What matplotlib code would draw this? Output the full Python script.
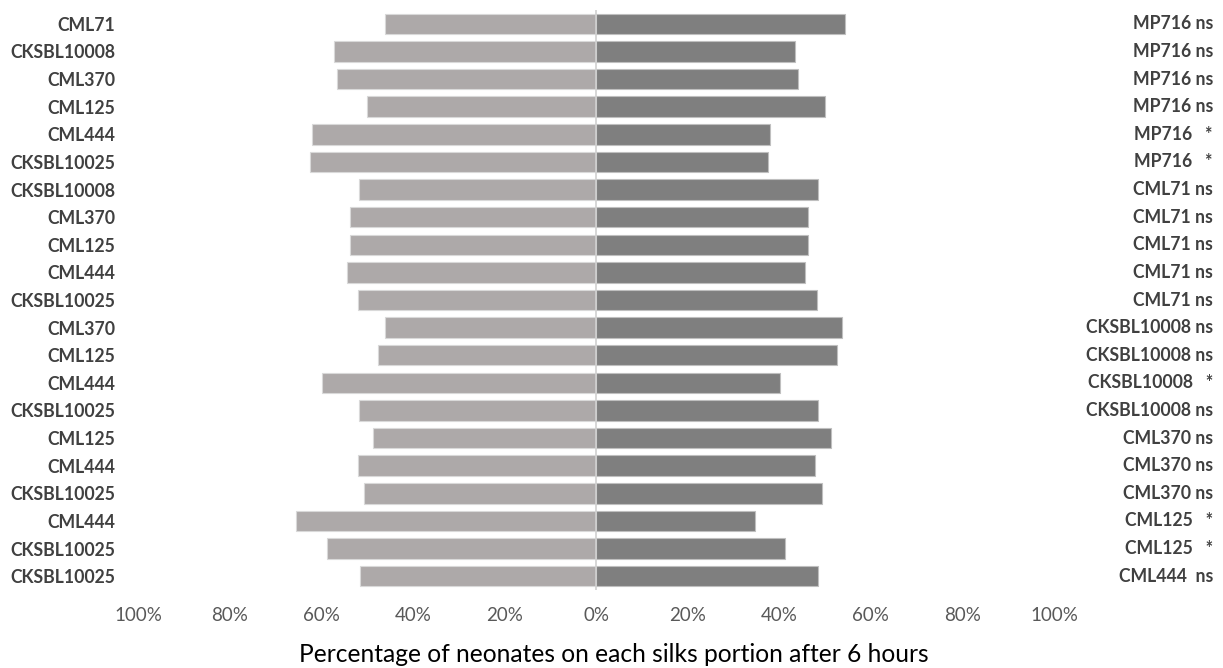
import matplotlib.pyplot as plt
import matplotlib.transforms as mtrans

# genotype on the left side of each comparison (top to bottom)
left_names = ["CML71", "CKSBL10008", "CML370", "CML125", "CML444", "CKSBL10025",
              "CKSBL10008", "CML370", "CML125", "CML444", "CKSBL10025",
              "CML370", "CML125", "CML444", "CKSBL10025",
              "CML125", "CML444", "CKSBL10025",
              "CML444", "CKSBL10025",
              "CKSBL10025"]
# genotype on the right side + significance
right_names = ["MP716 ns", "MP716 ns", "MP716 ns", "MP716 ns", "MP716   *", "MP716   *",
               "CML71 ns", "CML71 ns", "CML71 ns", "CML71 ns", "CML71 ns",
               "CKSBL10008 ns", "CKSBL10008 ns", "CKSBL10008   *", "CKSBL10008 ns",
               "CML370 ns", "CML370 ns", "CML370 ns",
               "CML125   *", "CML125   *",
               "CML444  ns"]
left_pct = [46.0, 57.1, 56.6, 50.0, 62.0, 62.5, 51.8, 53.8, 53.8, 54.4, 52.0,
            46.1, 47.6, 59.8, 51.7, 48.6, 52.0, 50.7, 65.4, 58.8, 51.5]
right_pct = [54.4, 43.5, 44.0, 50.0, 38.0, 37.6, 48.5, 46.3, 46.3, 45.6, 48.3,
             53.8, 52.7, 40.2, 48.5, 51.3, 47.8, 49.3, 34.7, 41.2, 48.5]
xticks = [-100, -80, -60, -40, -20, 0, 20, 40, 60, 80, 100]

plt.rcParams['font.family'] = ['Lato', 'DejaVu Sans']

fig = plt.figure(figsize=(12.23, 6.68), dpi=100)
ax = fig.add_axes([138 / 1223, 1 - 590 / 668, (1054 - 138) / 1223, 580 / 668])

y = list(range(len(left_names)))
ax.barh(y, [-v for v in left_pct], height=0.74, color="#ADA9A9", edgecolor="#D9D9D9", linewidth=0.8)
ax.barh(y, right_pct, height=0.74, color="#7F7F7F", edgecolor="#BFBFBF", linewidth=0.8)
ax.axvline(0, color="#D0D0D0", linewidth=1.2, zorder=3)

ax.set_xlim(-100, 100)
ax.set_ylim(len(y) - 0.5, -0.5)
ax.set_xticks(xticks)
ax.set_xticklabels([f"{abs(t)}%" for t in xticks], color="#595959", fontsize=13.5)
ax.tick_params(axis="x", length=0, pad=12)
ax.set_yticks(y)
ax.set_yticklabels(left_names, fontweight="bold", color="#404040", fontsize=12.7)
ax.tick_params(axis="y", length=0, pad=16.5)
for s in ax.spines.values():
    s.set_visible(False)

tr = mtrans.blended_transform_factory(fig.transFigure, ax.transData)
for yi, name in zip(y, right_names):
    ax.text(1213 / 1223, yi, name, transform=tr, ha="right", va="center",
            fontweight="bold", color="#404040", fontsize=12.7)

fig.text(614 / 1223, 1 - 654 / 668, "Percentage of neonates on each silks portion after 6 hours",
         ha="center", va="center", fontsize=17.7, color="#000000")

fig.savefig("out.png", dpi=100)
